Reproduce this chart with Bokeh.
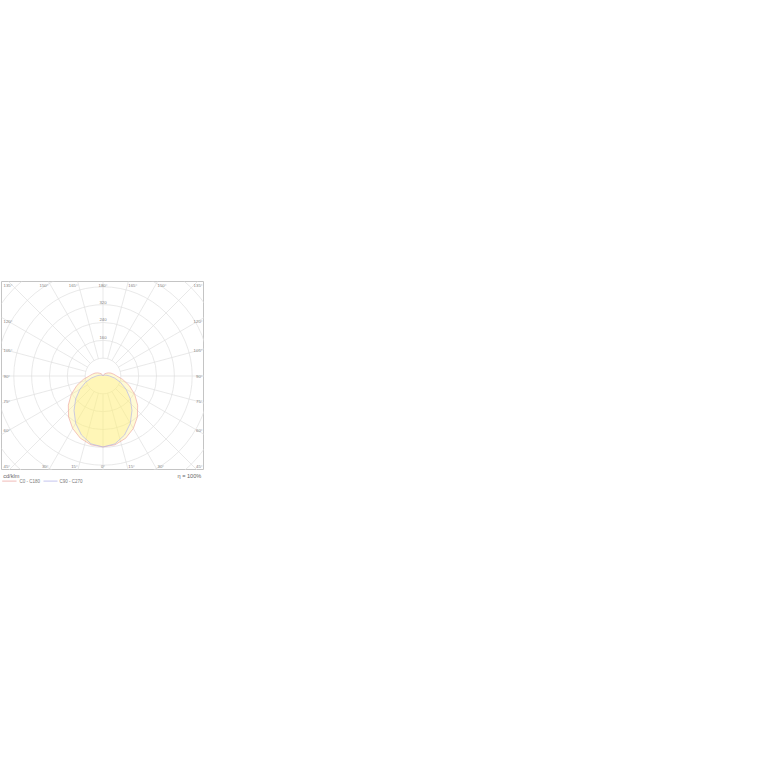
import numpy as np
from bokeh.plotting import figure
from bokeh.layouts import column
from bokeh.models import Range1d
from bokeh.core.properties import value
from bokeh.embed import file_html
from bokeh.resources import INLINE

# ---------------- data (cd/klm, gamma measured from nadir) ----------------
gamma_deg = [0, 10, 20, 30, 40, 50, 60, 70, 80, 90, 100, 110, 120, 130, 140, 150, 160, 170, 180]
c0_c180 = [318, 313, 297, 272, 240, 203, 164, 125, 90, 62, 48, 38, 28, 19, 13, 8, 4, 1, 0]
c90_c270 = [318, 309, 282, 245, 202, 160, 120, 84, 53, 30, 18, 11, 8, 5, 3, 2, 1, 0, 0]
ring_values = [80, 160, 240, 320, 400, 480, 560]
ring_label_values = [160, 240, 320]
radial_angles = list(range(0, 360, 15))
bottom_angles = [15, 30]
top_angles = [165, 150]
side_angles = [60, 75, 90, 105, 120]
unit_text = "cd/klm"
eta_text = "η = 100%"
legend_names = ["C0 - C180", "C90 - C270"]

# ---------------- layout constants (pixels) ----------------
K = 0.223            # px per cd
W, H = 203, 189      # frame size
HX, HY = 101.5, 94.5 # half sizes (centre of polar in the middle)
FONT = value("Liberation Sans")
GRID = "#e0e0e0"
LBL = "#808080"
RED = "#eeaaa6"
BLUE = "#b6b6ea"
FILL = "#fff07a"

def d(px):
    return px / K

p = figure(width=W, height=H, x_range=Range1d(-d(HX), d(HX)), y_range=Range1d(-d(HY), d(HY)),
           output_backend="svg", toolbar_location=None, min_border=0,
           x_axis_type=None, y_axis_type=None)
p.grid.visible = False
p.outline_line_color = "#c4c4c4"
p.outline_line_width = 1
p.background_fill_color = "white"
p.border_fill_color = "white"

# rings
p.circle(x=[0] * len(ring_values), y=[0] * len(ring_values), radius=ring_values,
         fill_color=None, line_color=GRID, line_width=0.7)

# radial lines from first ring outward
a = np.radians(radial_angles)
r0, r1 = ring_values[0], 2000
p.segment(x0=r0 * np.sin(a), y0=-r0 * np.cos(a), x1=r1 * np.sin(a), y1=-r1 * np.cos(a),
          line_color=GRID, line_width=0.7)

# curves
def polygon(vals):
    g = np.radians(gamma_deg)
    v = np.array(vals, dtype=float)
    xr, yr = v * np.sin(g), -v * np.cos(g)
    xs = np.concatenate([xr, -xr[::-1]])
    ys = np.concatenate([yr, yr[::-1]])
    return xs, ys

xs, ys = polygon(c0_c180)
p.patch(xs, ys, fill_color=FILL, fill_alpha=0.32, line_color=RED, line_width=0.7)
xs, ys = polygon(c90_c270)
p.patch(xs, ys, fill_color=FILL, fill_alpha=0.32, line_color=BLUE, line_width=0.7)

fs = value("4.3px")
# ring labels
p.text(x=[0] * len(ring_label_values), y=[v + d(1.0) for v in ring_label_values],
       text=[str(v) for v in ring_label_values], text_align="center", text_baseline="bottom",
       text_font=FONT, text_font_size=fs, text_color=LBL)

# bottom / top angle labels: inner edge at intersection with frame edge
yb = -d(90.5)
yt = d(90.5)
def hit(angle_from_axis, half):
    return d(half * np.tan(np.radians(angle_from_axis)))

bl_x = [-hit(g, HY) for g in bottom_angles]
br_x = [hit(g, HY) for g in bottom_angles]
p.text(x=bl_x, y=[yb] * len(bl_x), text=[f"{g}°" for g in bottom_angles], text_align="right",
       text_baseline="middle", text_font=FONT, text_font_size=fs, text_color=LBL)
p.text(x=br_x, y=[yb] * len(br_x), text=[f"{g}°" for g in bottom_angles], text_align="left",
       text_baseline="middle", text_font=FONT, text_font_size=fs, text_color=LBL)
tl_x = [-hit(180 - g, HY) for g in top_angles]
tr_x = [hit(180 - g, HY) for g in top_angles]
p.text(x=tl_x, y=[yt] * len(tl_x), text=[f"{g}°" for g in top_angles], text_align="right",
       text_baseline="middle", text_font=FONT, text_font_size=fs, text_color=LBL)
p.text(x=tr_x, y=[yt] * len(tr_x), text=[f"{g}°" for g in top_angles], text_align="left",
       text_baseline="middle", text_font=FONT, text_font_size=fs, text_color=LBL)
p.text(x=[0, 0], y=[yb, yt], text=["0°", "180°"], text_align="center", text_baseline="middle",
       text_font=FONT, text_font_size=fs, text_color=LBL)

# side labels (and corners) centred on the radial line near the frame edge
xl = -d(99.5)
xr = d(99.5)
side_y = [-d(95) / np.tan(np.radians(g)) if g != 90 else 0.0 for g in side_angles]
all_side = side_angles + [45, 135]
all_y = side_y + [yb, yt]
p.text(x=[xl] * len(all_side), y=all_y, text=[f"{g}°" for g in all_side], text_align="left",
       text_baseline="middle", text_font=FONT, text_font_size=fs, text_color=LBL)
p.text(x=[xr] * len(all_side), y=all_y, text=[f"{g}°" for g in all_side], text_align="right",
       text_baseline="middle", text_font=FONT, text_font_size=fs, text_color=LBL)

# ---------------- legend strip ----------------
LH = 22
q = figure(width=W, height=LH, x_range=Range1d(0, W), y_range=Range1d(LH, 0),
           output_backend="svg", toolbar_location=None, min_border=0,
           x_axis_type=None, y_axis_type=None)
q.grid.visible = False
q.outline_line_color = None
q.background_fill_color = "white"
q.border_fill_color = "white"
q.text(x=[1.7], y=[5.2], text=[unit_text], text_align="left", text_baseline="middle",
       text_font=FONT, text_font_size=value("5.6px"), text_color="#666666")
q.text(x=[199.8], y=[5.2], text=[eta_text], text_align="right", text_baseline="middle",
       text_font=FONT, text_font_size=value("5.6px"), text_color="#666666")
q.segment(x0=[0.7, 42], y0=[10.6, 10.6], x1=[15, 56], y1=[10.6, 10.6],
          line_color=[RED, BLUE], line_width=0.8)
q.text(x=[18, 58], y=[10.6, 10.6], text=legend_names, text_align="left", text_baseline="middle",
       text_font=FONT, text_font_size=value("4.5px"), text_color="#7a7a7a")

layout = column(p, q, margin=(281, 0, 0, 1), spacing=0)
open("out.html", "w").write(file_html(layout, INLINE))
